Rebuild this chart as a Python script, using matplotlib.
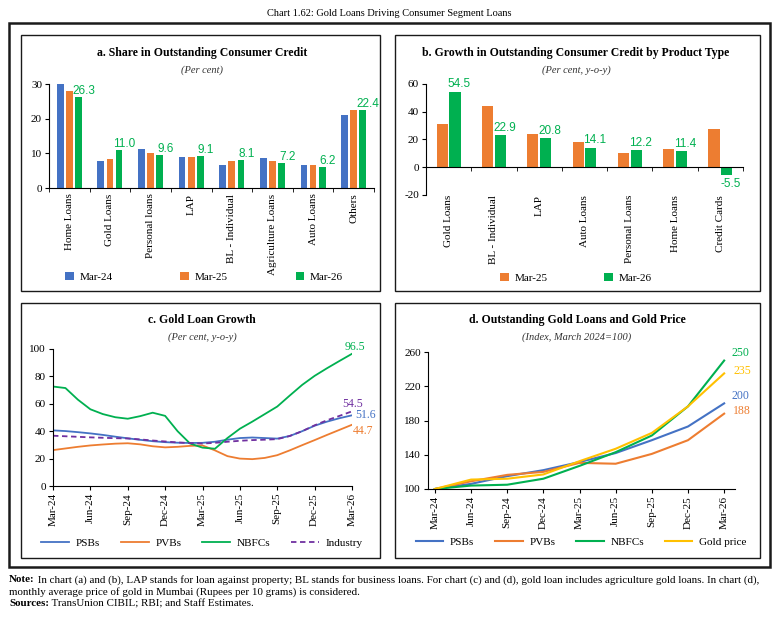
import matplotlib
matplotlib.use("Agg")
import matplotlib.pyplot as plt
import numpy as np
from matplotlib.patches import Rectangle

plt.rcParams['font.family'] = ['Liberation Serif', 'DejaVu Serif']
plt.rcParams['axes.unicode_minus'] = False

# ---- data ----
# a. share in outstanding consumer credit (per cent)
cat_a = ["Home Loans", "Gold Loans", "Personal loans", "LAP", "BL - Individual",
         "Agriculture Loans", "Auto Loans", "Others"]
a_mar24 = [29.9, 7.8, 11.2, 8.8, 6.6, 8.7, 6.6, 21.0]
a_mar25 = [28.0, 8.5, 10.2, 9.0, 7.8, 7.9, 6.5, 22.5]
a_mar26 = [26.3, 11.0, 9.6, 9.1, 8.1, 7.2, 6.2, 22.4]

# b. growth by product type (per cent, y-o-y)
cat_b = ["Gold Loans", "BL - Individual", "LAP", "Auto Loans", "Personal Loans",
         "Home Loans", "Credit Cards"]
b_mar25 = [31.1, 44.1, 24.1, 18.1, 10.1, 13.3, 27.7]
b_mar26 = [54.5, 22.9, 20.8, 14.1, 12.2, 11.4, -5.5]

# c. gold loan growth, monthly Mar-24 .. Mar-26 (per cent, y-o-y)
quarters = ["Mar-24", "Jun-24", "Sep-24", "Dec-24", "Mar-25", "Jun-25", "Sep-25",
            "Dec-25", "Mar-26"]
psb_c = [40.6, 40.1, 39.3, 38.4, 37.3, 36.0, 34.8, 33.7, 32.7, 32.0, 31.6, 31.4, 31.5,
         32.3, 33.8, 35.0, 35.4, 35.0, 34.6, 36.5, 40.0, 44.0, 47.0, 49.5, 51.6]
pvb_c = [26.2, 27.4, 28.6, 29.6, 30.3, 30.9, 31.2, 30.4, 29.0, 28.2, 28.6, 29.3, 29.6,
         26.0, 21.8, 20.0, 19.6, 20.5, 22.5, 26.0, 29.8, 33.5, 37.3, 41.0, 44.7]
nbfc_c = [72.6, 71.5, 63.0, 56.0, 52.5, 50.2, 49.1, 51.0, 53.5, 51.2, 40.0, 31.0, 28.0,
          27.2, 35.0, 41.8, 47.0, 52.5, 58.0, 66.0, 73.8, 80.4, 86.0, 91.3, 96.5]
ind_c = [36.7, 36.3, 35.9, 35.5, 35.2, 34.9, 34.7, 34.0, 33.2, 32.5, 31.8, 31.3, 31.0,
         31.5, 32.3, 33.0, 33.5, 33.8, 34.2, 36.5, 40.0, 44.3, 48.0, 51.2, 54.5]

# d. outstanding gold loans and gold price (index, Mar-24 = 100), quarterly
psb_d = [100, 106, 115, 122, 131.5, 142, 157, 173, 200]
pvb_d = [100, 109, 116.5, 120, 130.5, 129.5, 141, 157, 188]
nbfc_d = [100, 104, 105, 112, 127, 143, 162.5, 196.5, 250]
gold_d = [100, 111, 112, 117, 132.5, 147, 165.5, 196.5, 235]

BLUE, ORANGE, GREEN, PURPLE, GOLD = '#4472C4', '#ED7D31', '#00B050', '#7030A0', '#FFC000'

W, H = 778, 620
fig = plt.figure(figsize=(W / 100, H / 100), dpi=100)


def box(x0, y0, x1, y1, lw):
    fig.patches.append(Rectangle((x0 / W, 1 - y1 / H), (x1 - x0) / W, (y1 - y0) / H,
                                 transform=fig.transFigure, fill=False, ec='#1a1a1a', lw=lw))


def axes_px(x0, y0, x1, y1):
    return fig.add_axes([x0 / W, 1 - y1 / H, (x1 - x0) / W, (y1 - y0) / H])


def ftext(x, y, s, **kw):
    return fig.text(x / W, 1 - y / H, s, **kw)


def style(ax):
    ax.spines['top'].set_visible(False)
    ax.spines['right'].set_visible(False)
    ax.tick_params(axis='y', length=3, labelsize=8, pad=2)


def titles(xc, y, title, sub):
    ftext(xc, y, title, ha='center', va='center', fontsize=8.5, fontweight='bold')
    ftext(xc, y + 17, sub, ha='center', va='center', fontsize=7.5, style='italic',
          color='#333333')


ftext(389, 13, "Chart 1.62: Gold Loans Driving Consumer Segment Loans",
      ha='center', va='center', fontsize=7.5)
box(9, 23, 770, 567, 1.8)
box(21, 35, 380, 291, 1.0)
box(395, 35, 760, 291, 1.0)
box(21, 303, 380, 558, 1.0)
box(395, 303, 760, 558, 1.0)

# ---- panel a ----
titles(202, 53, "a. Share in Outstanding Consumer Credit", "(Per cent)")
ax = axes_px(49, 84, 374, 188)
x = np.arange(len(cat_a))
for k, (vals, col, lab) in enumerate([(a_mar24, BLUE, "Mar-24"), (a_mar25, ORANGE, "Mar-25"),
                                      (a_mar26, GREEN, "Mar-26")]):
    ax.bar(x + (k - 1) * 0.224, vals, 0.165, color=col, label=lab)
for xi, v in zip(x + 0.224, a_mar26):
    ax.annotate(f"{v:.1f}", xy=(xi, v), xytext=(4, 0), textcoords='offset points',
                ha='center', va='bottom', color=GREEN, fontsize=8.5,
                family=['Liberation Sans'])
ax.set_xlim(-0.5, len(cat_a) - 0.5)
ax.set_ylim(0, 30)
ax.set_yticks([0, 10, 20, 30])
style(ax)
ax.set_xticks(x)
ax.set_xticklabels(cat_a, rotation=90, fontsize=8)
ax.set_xticks(np.arange(-0.5, len(cat_a)), minor=True)
ax.tick_params(axis='x', which='major', length=0, pad=4)
ax.tick_params(axis='x', which='minor', length=3, direction='out')
ax.legend(loc='center', bbox_to_anchor=(204 / W, 1 - 277 / H), bbox_transform=fig.transFigure,
          ncol=3, frameon=False, fontsize=8, handlelength=0.8, handleheight=0.8,
          columnspacing=6.1, handletextpad=0.5)

# ---- panel b ----
titles(576, 53, "b. Growth in Outstanding Consumer Credit by Product Type", "(Per cent, y-o-y)")
ax = axes_px(426, 84, 743, 195)
x = np.arange(len(cat_b))
ax.bar(x - 0.14, b_mar25, 0.245, color=ORANGE, label="Mar-25")
ax.bar(x + 0.14, b_mar26, 0.245, color=GREEN, label="Mar-26")
for xi, v in zip(x + 0.14, b_mar26):
    ax.annotate(f"{v:.1f}", xy=(xi, v), xytext=(3, 1 if v >= 0 else -2),
                textcoords='offset points', ha='center',
                va='bottom' if v >= 0 else 'top', color=GREEN, fontsize=8.5,
                family=['Liberation Sans'])
ax.set_xlim(-0.5, len(cat_b) - 0.5)
ax.set_ylim(-20, 60)
ax.set_yticks([-20, 0, 20, 40, 60])
style(ax)
ax.spines['bottom'].set_position(('data', 0))
ax.set_xticks(x)
ax.set_xticklabels(cat_b, rotation=90, fontsize=8)
ax.set_xticks(np.arange(-0.5, len(cat_b)), minor=True)
ax.tick_params(axis='x', which='major', length=0, pad=20)
ax.tick_params(axis='x', which='minor', length=3, direction='out')
ax.legend(loc='center', bbox_to_anchor=(576 / W, 1 - 278 / H), bbox_transform=fig.transFigure,
          ncol=2, frameon=False, fontsize=8, handlelength=0.8, handleheight=0.8,
          columnspacing=5.1, handletextpad=0.5)

# ---- panel c ----
titles(202, 320, "c. Gold Loan Growth", "(Per cent, y-o-y)")
ax = axes_px(53, 349, 352, 486)
m = np.arange(len(psb_c))
ax.plot(m, psb_c, color=BLUE, lw=1.3, label="PSBs")
ax.plot(m, pvb_c, color=ORANGE, lw=1.3, label="PVBs")
ax.plot(m, nbfc_c, color=GREEN, lw=1.3, label="NBFCs")
ax.plot(m, ind_c, color=PURPLE, lw=1.3, ls=(0, (3, 2)), label="Industry")
for vals, col, off, ha in [(nbfc_c, GREEN, (2, 4.6), 'center'), (ind_c, PURPLE, (0.7, 5.5), 'center'),
                           (psb_c, BLUE, (2, 0), 'left'), (pvb_c, ORANGE, (0.7, -4.3), 'left')]:
    ax.annotate(f"{vals[-1]}", xy=(m[-1], vals[-1]), xytext=off, textcoords='offset points',
                ha=ha, va='center', color=col, fontsize=8.5)
ax.set_xlim(0, 24)
ax.set_ylim(0, 100)
ax.set_yticks(range(0, 101, 20))
style(ax)
ax.set_xticks(np.arange(0, 25, 3))
ax.set_xticklabels(quarters, rotation=90, fontsize=8)
ax.tick_params(axis='x', length=3, pad=2)
ax.legend(loc='center', bbox_to_anchor=(202 / W, 1 - 543 / H), bbox_transform=fig.transFigure,
          ncol=4, frameon=False, fontsize=8, handlelength=2.5, columnspacing=1.9,
          handletextpad=0.6)

# ---- panel d ----
titles(577, 320, "d. Outstanding Gold Loans and Gold Price", "(Index, March 2024=100)")
ax = axes_px(428, 352, 735, 489)
q = np.arange(len(psb_d))
ax.plot(q, psb_d, color=BLUE, lw=1.5, label="PSBs")
ax.plot(q, pvb_d, color=ORANGE, lw=1.5, label="PVBs")
ax.plot(q, nbfc_d, color=GREEN, lw=1.5, label="NBFCs")
ax.plot(q, gold_d, color=GOLD, lw=1.5, label="Gold price")
for vals, col, off in [(nbfc_d, GREEN, (5, 5.5)), (gold_d, GOLD, (6.5, 1.5)),
                       (psb_d, BLUE, (5, 5.3)), (pvb_d, ORANGE, (6.5, 2))]:
    ax.annotate(f"{vals[-1]:.0f}", xy=(q[-1], vals[-1]), xytext=off, textcoords='offset points',
                ha='left', va='center', color=col, fontsize=8.5)
ax.set_xlim(-0.19, 8.3)
ax.set_ylim(100, 260)
ax.set_yticks(range(100, 261, 40))
style(ax)
ax.set_xticks(q)
ax.set_xticklabels(quarters, rotation=90, fontsize=8)
ax.tick_params(axis='x', length=3, pad=2)
ax.legend(loc='center', bbox_to_anchor=(581 / W, 1 - 542 / H), bbox_transform=fig.transFigure,
          ncol=4, frameon=False, fontsize=8, handlelength=2.5, columnspacing=1.85,
          handletextpad=0.6)

# ---- notes ----
fig.canvas.draw()
r = fig.canvas.get_renderer()
notes = [("Note:", " In chart (a) and (b), LAP stands for loan against property; BL stands for business "
          "loans. For chart (c) and (d), gold loan includes agriculture gold loans. In chart (d),", 580),
         ("", "monthly average price of gold in Mumbai (Rupees per 10 grams) is considered.", 592),
         ("Sources:", " TransUnion CIBIL; RBI; and Staff Estimates.", 604)]
for bold, rest, y in notes:
    xpos = 9
    if bold:
        t = ftext(xpos, y, bold, ha='left', va='center', fontsize=7.9, fontweight='bold')
        xpos += t.get_window_extent(r).width
    ftext(xpos, y, rest, ha='left', va='center', fontsize=7.9)

fig.savefig("out.png", dpi=100, facecolor='white')
